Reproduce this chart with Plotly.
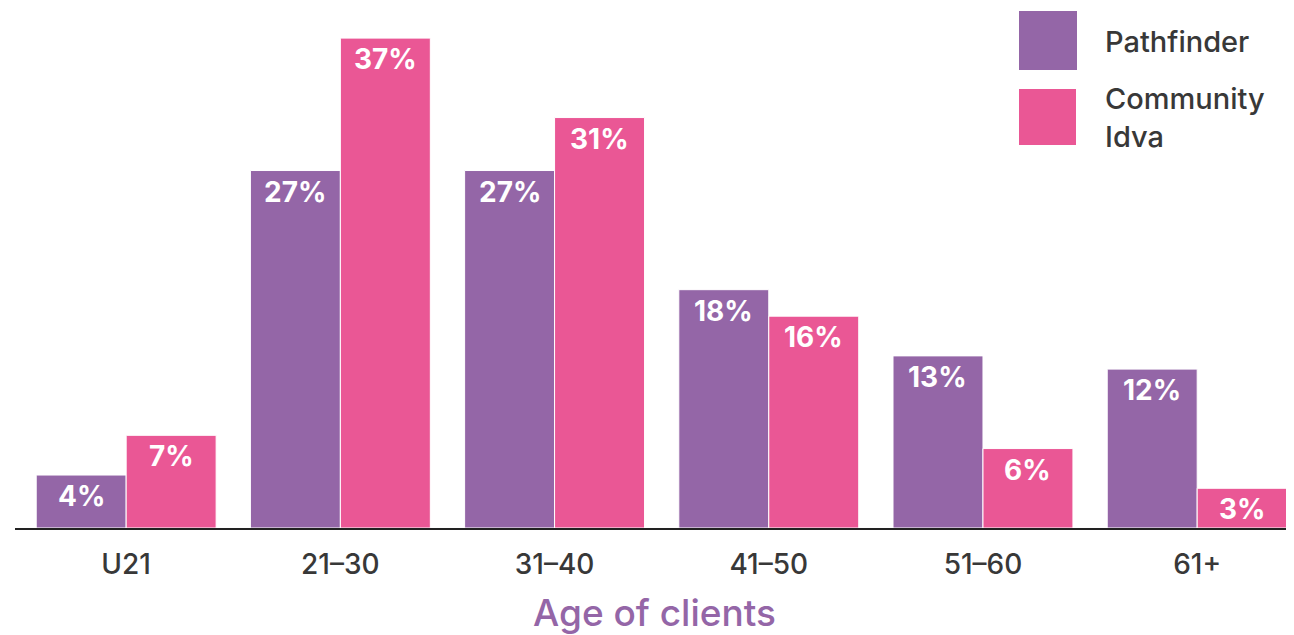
import plotly.graph_objects as go

categories = ["U21", "21–30", "31–40", "41–50", "51–60", "61+"]
pathfinder = [4, 27, 27, 18, 13, 12]
community = [7, 37, 31, 16, 6, 3]
series_names = ["Pathfinder", "Community<br>Idva"]

PURPLE = "#9466A7"
PINK = "#EA5795"
TEXT = "#383838"
FONT = "Inter, Roboto, sans-serif"

OFF = 8  # page body margin
W, H = 1294 - OFF, 635 - OFF
L, R, T, B = 15 - OFF, 0, 0, 107
PW, PH = W - L - R, H - T - B

def px(x):
    return (x - OFF - L) / PW

def py(y):
    return (H - B - (y - OFF)) / PH

fig = go.Figure()
fig.add_bar(x=categories, y=pathfinder, name="Pathfinder", marker_color=PURPLE,
            marker_line_color="white", marker_line_width=1, showlegend=False)
fig.add_bar(x=categories, y=community, name="Community Idva", marker_color=PINK,
            marker_line_color="white", marker_line_width=1, showlegend=False)

ann = []
for vals, shift in ((pathfinder, -45), (community, 45)):
    for c, v in zip(categories, vals):
        ann.append(dict(x=c, y=v, xref="x", yref="y", text=f"<b>{v}%</b>",
                        showarrow=False, xshift=shift, yshift=-21,
                        font=dict(family=FONT, size=28, color="white")))

# legend
shapes = [
    dict(type="rect", xref="paper", yref="paper", x0=px(1019), x1=px(1077),
         y0=py(70), y1=py(11), fillcolor=PURPLE, line_width=0),
    dict(type="rect", xref="paper", yref="paper", x0=px(1019), x1=px(1076),
         y0=py(145), y1=py(89), fillcolor=PINK, line_width=0),
]
ann.append(dict(xref="paper", yref="paper", x=px(1103), y=py(42), xanchor="left",
                yanchor="middle", text=series_names[0], showarrow=False,
                font=dict(family=FONT, size=29, weight=500, color=TEXT)))
ann.append(dict(xref="paper", yref="paper", x=px(1103), y=py(117), xanchor="left",
                yanchor="middle", text=series_names[1], showarrow=False, align="left",
                font=dict(family=FONT, size=29, weight=500, color=TEXT)))

fig.update_layout(
    width=W, height=H, margin=dict(l=L, r=R, t=T, b=B),
    barmode="group", bargap=0.16, bargroupgap=0,
    plot_bgcolor="white", paper_bgcolor="white",
    shapes=shapes, annotations=ann,
    font=dict(family=FONT, color=TEXT),
)
fig.update_xaxes(range=[-0.519, 5.452], showline=True, linecolor="#222", linewidth=2,
                 showgrid=False, ticks="", ticklabelstandoff=10,
                 tickfont=dict(family=FONT, size=28, weight=500, color=TEXT),
                 title=dict(text="Age of clients", standoff=22,
                            font=dict(family=FONT, size=37, weight=500, color=PURPLE)))
fig.update_yaxes(range=[0, 520 / 13.24], visible=False, showgrid=False)

fig.write_html("out.html")
